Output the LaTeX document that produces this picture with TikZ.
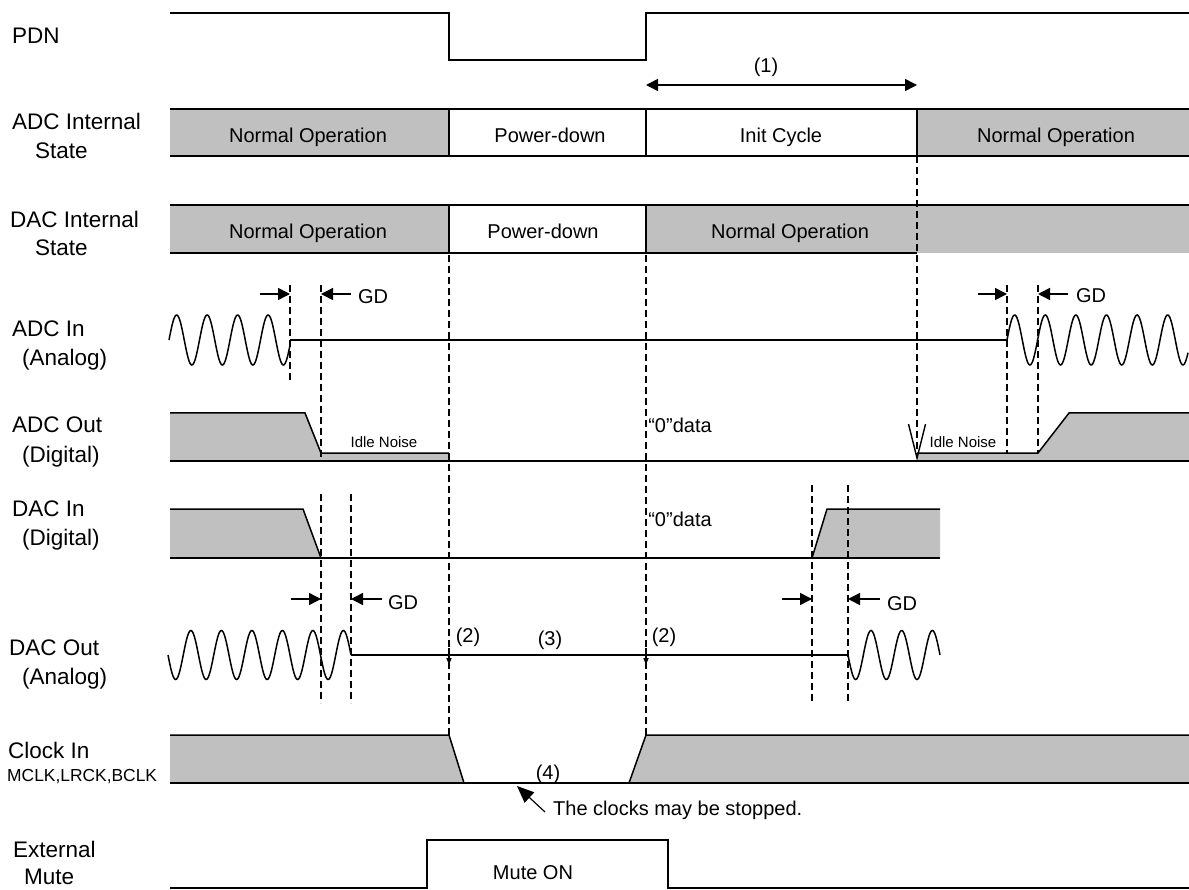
\documentclass[tikz,border=0pt]{standalone}
\usepackage{fontspec}
\setmainfont{Liberation Sans}
\usetikzlibrary{arrows.meta}
\definecolor{sg}{RGB}{192,192,192}
\begin{document}
\begin{tikzpicture}[x=1pt,y=-1pt,
  sig/.style={line width=1.5pt, line join=miter},
  dashv/.style={line width=1.4pt, dash pattern=on 7pt off 4pt},
  lbl/.style={anchor=base west, inner sep=0pt, font=\fontsize{22.5}{27}\selectfont},
  stxt/.style={anchor=base, inner sep=0pt, font=\fontsize{20}{24}\selectfont},
  smtxt/.style={anchor=base, inner sep=0pt, font=\fontsize{15}{18}\selectfont},
  lbls/.style={anchor=base west, inner sep=0pt, font=\fontsize{17.4}{20}\selectfont},
  gdarrow/.style={line width=1.5pt, -{Triangle[length=12pt,width=12pt]}},
]
\useasboundingbox (0,0) rectangle (1189,890);

% ---------- left labels ----------
\node[lbl] (lPDN) at (12,44) {PDN};
\node[lbl] (lADCs1) at (12,130) {ADC Internal};
\node[lbl] (lADCs2) at (35,159) {State};
\node[lbl] (lDACs1) at (10,228) {DAC Internal};
\node[lbl] (lDACs2) at (35,256) {State};
\node[lbl] (lADCi1) at (12,337) {ADC In};
\node[lbl] (lADCi2) at (22,366) {(Analog)};
\node[lbl] (lADCo1) at (12,433) {ADC Out};
\node[lbl] (lADCo2) at (22,462) {(Digital)};
\node[lbl] (lDACi1) at (12,516) {DAC In};
\node[lbl] (lDACi2) at (22,545) {(Digital)};
\node[lbl] (lDACo1) at (9,655) {DAC Out};
\node[lbl] (lDACo2) at (22,684) {(Analog)};
\node[lbl] (lClk1) at (8,758) {Clock In};
\node[lbls] (lClk2) at (7,781) {MCLK,LRCK,BCLK};
\node[lbl] (lMute1) at (13,857) {External};
\node[lbl] (lMute2) at (24,884) {Mute};

% ---------- PDN ----------
\draw[sig] (170,13) -- (449,13) -- (449,60) -- (646,60) -- (646,13) -- (1189,13);
\node[stxt] (t1) at (766,73) {(1)};
\coordinate (a1l) at (646,85);
\coordinate (a1r) at (917,85);
\draw[line width=1.5pt, {Triangle[length=12pt,width=12pt]}-{Triangle[length=12pt,width=12pt]}] (a1l) -- (a1r);

% ---------- ADC internal state ----------
\fill[sg] (170,109) rectangle (449,156);
\fill[sg] (917,109) rectangle (1189,156);
\draw[sig] (170,109) -- (1189,109) (170,156) -- (1189,156)
  (449,109) -- (449,156) (646,109) -- (646,156) (917,109) -- (917,156);
\node[stxt] (an1) at (308,143) {Normal Operation};
\node[stxt] (apd) at (550,143) {Power-down};
\node[stxt] (ainit) at (781,143) {Init Cycle};
\node[stxt] (an2) at (1056,143) {Normal Operation};

% ---------- DAC internal state ----------
\fill[sg] (170,205) rectangle (449,253);
\fill[sg] (646,205) rectangle (1189,253);
\draw[sig] (170,205) -- (1189,205) (170,253) -- (917,253)
  (449,205) -- (449,253) (646,205) -- (646,253);
\node[stxt] (dn1) at (308,239) {Normal Operation};
\node[stxt] (dpd) at (543,239) {Power-down};
\node[stxt] (dn2) at (790,239) {Normal Operation};

% ---------- ADC In ----------
\draw[sig] plot[domain=169:290, samples=150, smooth] (\x,{340-25*sin(((\x-169)/30.5)*360)});
\draw[sig] (290,340) -- (1007,340);
\draw[sig] plot[domain=1007:1188, samples=200, smooth] (\x,{340-25*sin(((\x-1007)/30.6)*360)});

% ---------- ADC Out ----------
\fill[sg] (170,461) -- (170,413) -- (305,413) -- (321,453) -- (449,453) -- (449,461) -- cycle;
\draw[sig] (170,413) -- (305,413) -- (321,453) -- (449,453);
\fill[sg] (917,461) -- (917,453) -- (1038,453) -- (1069,413) -- (1189,413) -- (1189,461) -- cycle;
\draw[sig] (917,453) -- (1038,453) -- (1069,413) -- (1189,413);
\draw[sig] (170,461) -- (1189,461);
\node[smtxt] (idle1) at (384,447) {Idle Noise};
\node[smtxt] (idle2) at (963,447) {Idle Noise};
\node[stxt] (z1) at (680,432) {“0”data};

% ---------- DAC In ----------
\fill[sg] (170,558) -- (170,509) -- (303,509) -- (321,558) -- cycle;
\draw[sig] (170,509) -- (303,509) -- (321,558);
\fill[sg] (812,558) -- (827,509) -- (940,509) -- (940,558) -- cycle;
\draw[sig] (812,558) -- (827,509) -- (940,509);
\draw[sig] (170,558) -- (940,558);
\node[stxt] (z2) at (680,526) {“0”data};

% ---------- DAC Out ----------
\draw[sig] plot[domain=168:351, samples=220, smooth] (\x,{655+24.5*sin(((\x-168)/30.5)*360)});
\draw[sig] (351,655) -- (848,655);
\draw[sig] plot[domain=848:940, samples=120, smooth] (\x,{655+24.5*sin(((\x-848)/30.67)*360)});
\draw[line width=1.5pt, -{Triangle[length=7pt,width=5pt]}] (449,648) -- (449,665);
\draw[line width=1.5pt, -{Triangle[length=7pt,width=5pt]}] (646,648) -- (646,665);
\node[stxt] (m2a) at (468,642) {(2)};
\node[stxt] (m3) at (550,645) {(3)};
\node[stxt] (m2b) at (664,642) {(2)};

% ---------- Clock In ----------
\fill[sg] (170,783) -- (170,735) -- (449,735) -- (464,783) -- cycle;
\draw[sig] (170,735) -- (449,735) -- (464,783);
\fill[sg] (629,783) -- (646,735) -- (1189,735) -- (1189,783) -- cycle;
\draw[sig] (629,783) -- (646,735) -- (1189,735);
\draw[sig] (170,783) -- (1189,783);
\node[stxt] (m4) at (548,779) {(4)};
\node[stxt, anchor=base west] (stop) at (553,815) {The clocks may be stopped.};
\coordinate (stopTail) at (545,812);
\coordinate (stopTip) at (517,786);
\draw[line width=1.2pt, -{Triangle[length=17pt,width=14pt]}] (stopTail) -- (stopTip);

% ---------- External Mute ----------
\draw[sig] (170,888) -- (427,888) -- (427,840) -- (668,840) -- (668,888) -- (1189,888);
\node[stxt] (mon) at (533,879) {Mute ON};

% ---------- dashed guide lines ----------
\draw[dashv] (290,285) -- (290,382);
\draw[dashv] (321,285) -- (321,461);
\draw[dashv] (1007,285) -- (1007,453);
\draw[dashv] (1038,285) -- (1038,453);
\draw[dashv] (449,255) -- (449,735);
\draw[dashv] (646,255) -- (646,735);
\draw[dashv, -{Straight Barb[length=34pt,width=17pt]}] (917,156) -- (917,461);
\draw[dashv] (321,494) -- (321,703);
\draw[dashv] (351,494) -- (351,703);
\draw[dashv] (812,485) -- (812,703);
\draw[dashv] (848,485) -- (848,703);

% ---------- GD arrows ----------
\draw[gdarrow] (260,294) -- (290,294);
\draw[gdarrow] (351,294) -- (321,294);
\node[stxt] (gd1) at (373,304) {GD};
\draw[gdarrow] (978,294) -- (1007,294);
\draw[gdarrow] (1068,294) -- (1038,294);
\node[stxt] (gd2) at (1091,303) {GD};
\draw[gdarrow] (291,599) -- (321,599);
\draw[gdarrow] (382,599) -- (351,599);
\node[stxt] (gd3) at (403,609) {GD};
\draw[gdarrow] (782,599) -- (812,599);
\draw[gdarrow] (880,599) -- (848,599);
\node[stxt] (gd4) at (902,610) {GD};
\end{tikzpicture}
\end{document}
